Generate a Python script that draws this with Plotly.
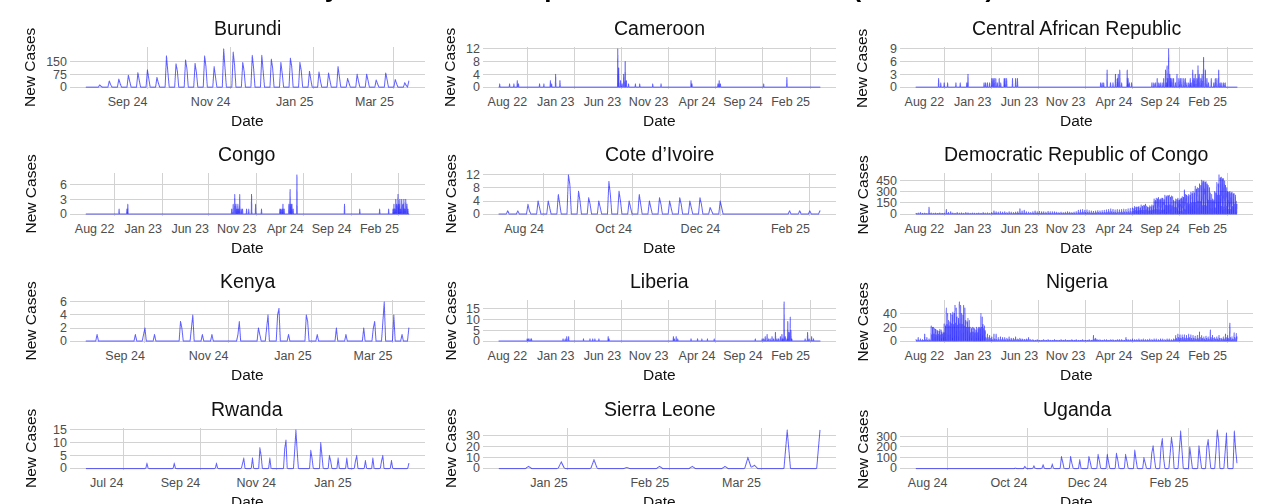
import pandas as pd
import plotly.graph_objects as go

FIG_W, FIG_H = 1270, 504
FONT = "Liberation Sans, Arial, sans-serif"
LINE_COLOR = "rgba(0,0,255,0.62)"
GRID_COLOR = "#d2d2d2"
TICK_COLOR = "#4d4d4d"

main_title = "Daily New Cases of Mpox in African Countries (2022-2025)"
y_title = "New Cases"
x_title = "Date"

countries = ["Burundi", "Cameroon", "Central African Republic",
             "Congo", "Cote d\u2019Ivoire", "Democratic Republic of Congo",
             "Kenya", "Liberia", "Nigeria",
             "Rwanda", "Sierra Leone", "Uganda"]

# ---------------- x tick sets ----------------
long_ticks = ["2022-08-01", "2023-01-01", "2023-06-01", "2023-11-01", "2024-04-01", "2024-09-01", "2025-02-01"]
long_labels = ["Aug 22", "Jan 23", "Jun 23", "Nov 23", "Apr 24", "Sep 24", "Feb 25"]
sepmar_ticks = ["2024-09-01", "2024-11-01", "2025-01-01", "2025-03-01"]
sepmar_labels = ["Sep 24", "Nov 24", "Jan 25", "Mar 25"]
augfeb_ticks = ["2024-08-01", "2024-10-01", "2024-12-01", "2025-02-01"]
augfeb_labels = ["Aug 24", "Oct 24", "Dec 24", "Feb 25"]
juljan_ticks = ["2024-07-01", "2024-09-01", "2024-11-01", "2025-01-01"]
juljan_labels = ["Jul 24", "Sep 24", "Nov 24", "Jan 25"]
janmar_ticks = ["2025-01-01", "2025-02-01", "2025-03-01"]
janmar_labels = ["Jan 25", "Feb 25", "Mar 25"]

# ---------------- data ----------------
long_span = ("2022-05-02", "2025-03-05")

# Burundi: weekly reports (Sunday peak, Monday follow-up)
burundi_span = ("2024-07-18", "2025-03-12")
burundi_sundays = pd.date_range("2024-07-28", periods=33, freq="7D")
burundi_sunday_cases = [13, 36, 47, 70, 85, 102, 57, 184, 137, 160, 140, 184, 121, 226, 207, 146, 188,
                        188, 165, 146, 171, 146, 93, 89, 83, 121, 51, 76, 76, 42, 83, 45, 26]
burundi_monday_cases = [4, 15, 20, 35, 40, 50, 25, 90, 95, 110, 85, 120, 60, 110, 130, 95, 110,
                        95, 110, 80, 120, 95, 45, 40, 40, 60, 25, 35, 40, 20, 45, 20, 10]
burundi_last_date = ["2025-03-12"]
burundi_last_cases = [36]

cameroon_dates = ["2022-05-04", "2022-06-05", "2022-06-19", "2022-06-30", "2022-07-04", "2022-09-10",
                  "2022-09-24", "2022-10-15", "2022-10-19", "2022-11-01", "2022-11-15", "2023-05-21",
                  "2023-05-24", "2023-05-30", "2023-06-04", "2023-06-09", "2023-06-14", "2023-06-18",
                  "2023-06-25", "2023-07-17", "2023-07-31", "2023-09-11", "2023-10-08", "2024-01-13",
                  "2024-01-16", "2024-04-09", "2024-04-13", "2024-04-17", "2024-09-04", "2024-11-18"]
cameroon_cases = [1, 1, 1, 2, 1, 1, 1, 2, 1, 4, 2, 12, 6, 2, 1, 4, 8, 2, 1, 1, 1, 1, 1, 2, 1, 1, 2, 1, 1, 3]

car_dates = ["2022-07-14", "2022-07-21", "2022-08-01", "2022-08-12", "2022-09-08", "2022-09-22",
             "2022-10-13", "2022-10-17", "2022-12-08", "2022-12-13", "2022-12-19", "2022-12-26",
             "2023-01-02", "2023-01-06", "2023-01-10", "2023-01-15", "2023-01-20", "2023-01-26",
             "2023-01-31", "2023-02-11", "2023-02-14", "2023-02-19", "2023-03-10", "2023-03-20",
             "2023-03-26", "2023-12-20", "2023-12-25", "2023-12-30", "2024-01-10", "2024-01-21",
             "2024-01-29", "2024-02-06", "2024-02-12", "2024-02-15", "2024-02-20", "2024-02-26",
             "2024-03-15", "2024-03-18", "2024-03-22", "2024-03-29", "2024-06-03", "2024-06-09",
             "2024-06-14", "2024-06-20", "2024-06-25", "2024-06-30", "2024-07-06", "2024-07-11",
             "2024-07-17", "2024-07-20", "2024-07-22", "2024-07-25", "2024-07-27", "2024-07-31",
             "2024-08-03", "2024-08-07", "2024-08-12", "2024-08-18", "2024-08-23", "2024-08-29",
             "2024-09-03", "2024-09-08", "2024-09-14", "2024-09-19", "2024-09-24", "2024-09-30",
             "2024-10-05", "2024-10-08", "2024-10-13", "2024-10-17", "2024-10-21", "2024-10-26",
             "2024-10-30", "2024-11-03", "2024-11-08", "2024-11-12", "2024-11-17", "2024-11-23",
             "2024-11-28", "2024-12-03", "2024-12-12", "2024-12-20", "2024-12-25", "2024-12-30",
             "2025-01-05", "2025-01-10", "2025-01-15", "2025-01-21", "2025-01-26"]
car_cases = [2, 1, 1, 1, 1, 1, 1, 3, 1, 1, 1, 1,
             2, 2, 2, 2, 1, 2, 1, 2, 2, 2, 2, 2, 2,
             1, 1, 1, 4, 1, 1, 3, 2, 3, 4, 1, 4, 2, 1, 1,
             1, 1, 1, 2, 1, 1, 1, 2, 4, 1, 5, 2, 9, 3, 2,
             2, 2, 1, 3, 2, 2, 2, 2, 2, 1, 1,
             2, 1, 4, 2, 3, 2, 5, 3, 2, 3, 7, 4, 2, 1,
             2, 1, 2, 2, 4, 1, 1, 1, 1]

congo_dates = ["2022-08-16", "2022-09-10", "2022-09-13", "2023-08-13", "2023-08-18", "2023-08-23",
               "2023-08-27", "2023-08-30", "2023-09-02", "2023-09-05", "2023-09-08", "2023-09-13",
               "2023-09-17", "2023-09-30", "2023-10-07", "2023-10-16", "2023-10-29", "2023-11-17",
               "2024-01-15", "2024-01-18", "2024-01-22", "2024-01-25", "2024-01-29", "2024-02-13",
               "2024-02-17", "2024-02-20", "2024-02-23", "2024-02-27", "2024-03-10", "2024-08-10",
               "2024-09-28", "2024-12-01", "2024-12-30", "2025-01-13", "2025-01-16", "2025-01-19",
               "2025-01-22", "2025-01-25", "2025-01-29", "2025-02-01", "2025-02-04", "2025-02-07",
               "2025-02-10", "2025-02-14", "2025-02-17", "2025-02-20", "2025-02-23", "2025-02-27",
               "2025-03-02"]
congo_cases = [1, 1, 2, 1, 2, 4, 2, 1, 2, 1, 4, 1, 1, 1, 1, 4, 2, 1,
               1, 1, 1, 2, 1, 2, 5, 2, 2, 1, 8, 2, 1, 1, 1,
               1, 2, 1, 3, 2, 4, 2, 3, 1, 3, 2, 3, 1, 3, 2, 1]

# Cote d'Ivoire: weekly reports (Sunday peak, Monday follow-up)
civ_span = ("2024-07-01", "2025-02-08")
civ_sundays = pd.date_range("2024-07-07", periods=22, freq="7D")
civ_sunday_cases = [1, 1, 3, 4, 4, 6, 12, 7, 5, 4, 10, 7, 4, 6, 4, 5, 4, 5, 4, 5, 2, 4]
civ_monday_cases = [0, 0, 1, 2, 2, 3, 9, 4, 3, 2, 6, 4, 2, 3, 2, 3, 2, 3, 2, 3, 1, 2]
civ_late_dates = ["2025-01-18", "2025-01-25", "2025-02-01", "2025-02-08"]
civ_late_cases = [1, 1, 1, 1]

# DRC: weekly Monday peak report, mid-week (Wednesday) report, and Friday report (from Apr 2024)
drc_mondays = pd.date_range("2022-05-02", periods=149, freq="7D")
drc_wednesdays = pd.date_range("2022-05-04", periods=149, freq="7D")
drc_fridays = pd.date_range("2024-04-05", periods=49, freq="7D")
drc_monday_cases = [10, 15, 20, 10, 12, 8, 90, 15, 10, 12,
                    8, 15, 10, 12, 60, 20, 30, 15, 10, 20,
                    12, 15, 10, 20, 15, 10, 15, 12, 10, 15,
                    10, 20, 12, 15, 10, 20, 40, 30, 25, 30,
                    25, 30, 20, 30, 25, 20, 25, 30, 70, 40,
                    50, 30, 25, 20, 30, 40, 30, 35, 30, 30,
                    25, 35, 30, 30, 30, 25, 20, 25, 20, 25,
                    30, 25, 20, 25, 30, 50, 55, 60, 50, 55,
                    45, 40, 35, 40, 45, 40, 45, 50, 55, 60,
                    70, 60, 55, 60, 55, 60, 65, 60, 70, 75,
                    80, 100, 95, 100, 120, 115, 130, 90, 110, 120,
                    200, 210, 220, 200, 210, 250, 245, 250, 240, 180,
                    200, 210, 200, 230, 320, 250, 260, 290, 300, 370,
                    350, 400, 450, 440, 430, 380, 280, 200, 300, 420,
                    520, 490, 470, 380, 300, 300, 290, 270, 170]
drc_wednesday_cases = [5, 3, 6, 4, 5, 3, 8, 4, 5, 3,
                       5, 4, 6, 3, 8, 5, 6, 4, 5, 6,
                       4, 5, 3, 6, 5, 4, 5, 3, 6, 4,
                       5, 6, 4, 5, 3, 8, 12, 10, 8, 10,
                       9, 10, 8, 11, 9, 8, 10, 12, 15, 12,
                       14, 10, 9, 8, 10, 12, 11, 10, 12, 10,
                       9, 11, 10, 12, 10, 9, 8, 10, 9, 10,
                       11, 10, 9, 10, 12, 20, 22, 25, 20, 22,
                       18, 16, 15, 18, 20, 18, 20, 22, 25, 28,
                       30, 25, 22, 25, 24, 25, 28, 26, 30, 32,
                       35, 45, 40, 45, 50, 48, 55, 40, 45, 50,
                       55, 60, 55, 50, 55, 115, 110, 120, 110, 85,
                       85, 40, 40, 40, 60, 140, 135, 145, 150, 150,
                       170, 165, 110, 115, 105, 180, 180, 175, 80, 250,
                       250, 100, 95, 100, 60, 60, 100, 130, 130]
drc_friday_cases = [70, 85, 90, 80, 100, 110, 105, 85, 95, 110,
                    180, 200, 190, 210, 190, 230, 240, 220, 230, 170,
                    190, 180, 210, 220, 260, 240, 250, 270, 280, 330,
                    340, 380, 430, 420, 400, 350, 260, 190, 280, 400,
                    480, 470, 440, 350, 290, 280, 270, 250, 160]

kenya_span = ("2024-07-20", "2025-03-13")
kenya_dates = ["2024-07-28", "2024-08-25", "2024-08-31", "2024-09-01", "2024-09-08", "2024-09-27",
               "2024-09-28", "2024-10-05", "2024-10-06", "2024-10-13", "2024-10-20", "2024-11-08",
               "2024-11-09", "2024-11-23", "2024-11-24", "2024-11-29", "2024-11-30", "2024-12-07",
               "2024-12-08", "2024-12-15", "2024-12-28", "2024-12-29", "2025-01-05", "2025-01-19",
               "2025-01-26", "2025-02-08", "2025-02-15", "2025-02-16", "2025-02-22", "2025-02-23",
               "2025-03-02", "2025-03-08", "2025-03-13"]
kenya_cases = [1, 1, 1, 2, 1, 3, 2, 2, 4, 1, 1, 1, 3, 2, 1, 2, 4, 4, 5, 1, 4, 3, 1, 2, 1, 2, 2, 3, 3, 6, 4, 1, 2]

liberia_dates = ["2022-08-01", "2022-08-05", "2022-08-10", "2022-08-15", "2022-11-25", "2022-12-02",
                 "2022-12-07", "2022-12-13", "2023-01-30", "2023-02-20", "2023-03-01", "2023-03-08",
                 "2023-03-21", "2023-04-20", "2023-04-23", "2023-11-17", "2023-11-20", "2023-11-26",
                 "2023-12-01", "2024-01-13", "2024-02-03", "2024-02-17", "2024-03-06", "2024-03-28",
                 "2024-08-08", "2024-08-30", "2024-09-04", "2024-09-09", "2024-09-15", "2024-09-20",
                 "2024-09-25", "2024-10-01", "2024-10-06", "2024-10-12", "2024-10-17", "2024-10-22",
                 "2024-10-28", "2024-11-02", "2024-11-05", "2024-11-09", "2024-11-13", "2024-11-18",
                 "2024-11-21", "2024-11-25", "2024-11-29", "2024-12-01", "2024-12-04", "2025-01-16",
                 "2025-01-24", "2025-01-29", "2025-02-06", "2025-02-12"]
liberia_cases = [1, 1, 1, 1, 1, 1, 2, 2, 1, 1, 1, 1, 1, 2, 1, 2, 1, 2, 1, 1, 1, 1, 1, 1,
                 1, 1, 1, 2, 3, 1, 1, 2, 1, 4, 1, 1, 2, 3, 1, 18, 2, 1, 9, 4, 11, 5, 1,
                 1, 4, 1, 2, 1]

# Nigeria: weekly Monday peak report, mid-week (Wednesday) report, Friday report (2022 wave)
nigeria_mondays = pd.date_range("2022-05-02", periods=149, freq="7D")
nigeria_wednesdays = pd.date_range("2022-05-04", periods=149, freq="7D")
nigeria_fridays = pd.date_range("2022-06-24", periods=25, freq="7D")
nigeria_monday_cases = [2, 5, 3, 2, 10, 5, 3, 22, 20, 17,
                        15, 17, 13, 25, 48, 30, 40, 42, 52, 35,
                        57, 40, 52, 30, 33, 20, 20, 18, 20, 20,
                        40, 24, 15, 10, 8, 6, 10, 10, 5, 6,
                        5, 5, 4, 6, 4, 4, 6, 3, 4, 3,
                        2, 3, 5, 2, 2, 1, 2, 1, 1, 2,
                        1, 2, 1, 1, 2, 1, 1, 2, 1, 2,
                        1, 1, 2, 1, 2, 1, 1, 2, 1, 1,
                        2, 1, 8, 4, 2, 2, 1, 2, 2, 1,
                        2, 2, 1, 2, 2, 2, 1, 5, 2, 2,
                        3, 2, 2, 3, 2, 3, 2, 2, 3, 2,
                        3, 3, 2, 3, 3, 2, 3, 3, 2, 3,
                        8, 10, 9, 9, 9, 8, 10, 9, 8, 7,
                        8, 13, 8, 6, 7, 6, 16, 8, 5, 6,
                        8, 4, 6, 10, 8, 26, 6, 12, 11]
nigeria_wednesday_cases = [1, 1, 1, 1, 2, 1, 1, 9, 10, 9,
                           10, 9, 10, 12, 24, 22, 25, 24, 26, 23,
                           25, 24, 22, 20, 20, 12, 13, 12, 12, 20,
                           20, 18, 5, 5, 4, 2, 3, 2, 2, 2,
                           2, 2, 2, 2, 2, 2, 2, 2, 2, 2,
                           2, 2, 2, 1, 1, 1, 1, 1, 1, 1,
                           1, 1, 1, 1, 1, 1, 1, 1, 1, 1,
                           1, 1, 1, 1, 1, 1, 1, 1, 1, 1,
                           1, 1, 3, 2, 1, 1, 1, 1, 1, 1,
                           1, 1, 1, 1, 1, 1, 1, 2, 1, 1,
                           1, 1, 1, 1, 1, 1, 1, 1, 1, 1,
                           1, 1, 1, 1, 1, 1, 1, 1, 1, 2,
                           4, 5, 4, 5, 4, 4, 5, 4, 4, 3,
                           4, 5, 4, 3, 4, 3, 5, 4, 3, 3,
                           4, 3, 3, 5, 4, 5, 3, 5, 6]
nigeria_friday_cases = [20, 18, 16, 14, 16, 12, 22, 40, 28, 38,
                        40, 48, 33, 52, 38, 48, 28, 30, 18, 19,
                        16, 18, 18, 35, 22]

rwanda_span = ("2024-06-01", "2025-02-16")
rwanda_dates = ["2024-07-20", "2024-08-11", "2024-09-14", "2024-10-05", "2024-10-06", "2024-10-13",
                "2024-10-19", "2024-10-20", "2024-10-27", "2024-11-08", "2024-11-09", "2024-11-16",
                "2024-11-17", "2024-11-18", "2024-11-29", "2024-11-30", "2024-12-07", "2024-12-08",
                "2024-12-14", "2024-12-15", "2024-12-21", "2024-12-28", "2025-01-04", "2025-01-05",
                "2025-01-12", "2025-01-18", "2025-01-25", "2025-01-26", "2025-02-02", "2025-02-16"]
rwanda_cases = [2, 2, 2, 2, 4, 4, 8, 5, 4, 8, 11, 7, 15, 7, 7, 4, 10, 5, 5, 3, 4, 4, 3, 5, 3, 4, 3, 5, 3, 2]

sierra_span = ("2024-12-11", "2025-03-19")
sierra_dates = ["2024-12-20", "2024-12-30", "2025-01-09", "2025-01-19", "2025-01-29", "2025-02-08",
                "2025-02-18", "2025-02-25", "2025-02-26", "2025-02-27", "2025-03-09", "2025-03-19"]
sierra_cases = [2, 6, 8, 1, 2, 2, 2, 10, 1, 3, 35, 35]

uganda_span = ("2024-07-08", "2025-03-10")
uganda_dates = ["2024-09-22", "2024-09-29", "2024-09-30", "2024-10-06", "2024-10-13", "2024-10-20",
                "2024-10-27", "2024-10-28", "2024-11-03", "2024-11-04", "2024-11-10", "2024-11-17",
                "2024-11-18", "2024-11-24", "2024-11-25", "2024-12-01", "2024-12-02", "2024-12-08",
                "2024-12-09", "2024-12-15", "2024-12-16", "2024-12-22", "2024-12-23", "2024-12-29",
                "2024-12-30", "2025-01-04", "2025-01-05", "2025-01-06", "2025-01-11", "2025-01-12",
                "2025-01-13", "2025-01-18", "2025-01-19", "2025-01-20", "2025-01-25", "2025-01-26",
                "2025-01-27", "2025-02-02", "2025-02-03", "2025-02-09", "2025-02-10", "2025-02-15",
                "2025-02-16", "2025-02-17", "2025-02-22", "2025-02-23", "2025-02-24", "2025-03-01",
                "2025-03-02", "2025-03-08", "2025-03-09", "2025-03-10"]
uganda_cases = [5, 20, 5, 25, 35, 40, 110, 60, 110, 50, 80, 110, 60, 130, 70, 130, 60, 140, 80, 130,
                70, 170, 80, 100, 50, 150, 210, 90, 200, 280, 100, 140, 290, 200, 170, 350, 180, 200,
                100, 210, 100, 200, 270, 130, 170, 360, 260, 160, 330, 350, 180, 50]

y_ticks = {
    "Burundi": [0, 75, 150],
    "Cameroon": [0, 4, 8, 12],
    "Central African Republic": [0, 3, 6, 9],
    "Congo": [0, 3, 6],
    "Cote d\u2019Ivoire": [0, 4, 8, 12],
    "Democratic Republic of Congo": [0, 150, 300, 450],
    "Kenya": [0, 2, 4, 6],
    "Liberia": [0, 5, 10, 15],
    "Nigeria": [0, 20, 40],
    "Rwanda": [0, 5, 10, 15],
    "Sierra Leone": [0, 10, 20, 30],
    "Uganda": [0, 100, 200, 300],
}


def daily_series(span, parts):
    """Daily series over span: reported values on listed dates, no report (0) otherwise."""
    idx = pd.date_range(span[0], span[1], freq="D")
    s = pd.Series(0.0, index=idx)
    for dates, values in parts:
        for d, v in zip(pd.to_datetime(list(dates)), values):
            if d in s.index:
                s.loc[d] = v
    return s


one_day = pd.Timedelta(days=1)
series = {
    "Burundi": daily_series(burundi_span, [(burundi_sundays, burundi_sunday_cases),
                                           (burundi_sundays + one_day, burundi_monday_cases),
                                           (burundi_last_date, burundi_last_cases)]),
    "Cameroon": daily_series(long_span, [(cameroon_dates, cameroon_cases)]),
    "Central African Republic": daily_series(long_span, [(car_dates, car_cases)]),
    "Congo": daily_series(long_span, [(congo_dates, congo_cases)]),
    "Cote d\u2019Ivoire": daily_series(civ_span, [(civ_sundays, civ_sunday_cases),
                                                  (civ_sundays + one_day, civ_monday_cases),
                                                  (civ_late_dates, civ_late_cases)]),
    "Democratic Republic of Congo": daily_series(long_span, [(drc_mondays, drc_monday_cases),
                                                             (drc_wednesdays, drc_wednesday_cases),
                                                             (drc_fridays, drc_friday_cases)]),
    "Kenya": daily_series(kenya_span, [(kenya_dates, kenya_cases)]),
    "Liberia": daily_series(long_span, [(liberia_dates, liberia_cases)]),
    "Nigeria": daily_series(long_span, [(nigeria_mondays, nigeria_monday_cases),
                                        (nigeria_wednesdays, nigeria_wednesday_cases),
                                        (nigeria_fridays, nigeria_friday_cases)]),
    "Rwanda": daily_series(rwanda_span, [(rwanda_dates, rwanda_cases)]),
    "Sierra Leone": daily_series(sierra_span, [(sierra_dates, sierra_cases)]),
    "Uganda": daily_series(uganda_span, [(uganda_dates, uganda_cases)]),
}

x_tick_sets = {
    "Burundi": (sepmar_ticks, sepmar_labels),
    "Cameroon": (long_ticks, long_labels),
    "Central African Republic": (long_ticks, long_labels),
    "Congo": (long_ticks, long_labels),
    "Cote d\u2019Ivoire": (augfeb_ticks, augfeb_labels),
    "Democratic Republic of Congo": (long_ticks, long_labels),
    "Kenya": (sepmar_ticks, sepmar_labels),
    "Liberia": (long_ticks, long_labels),
    "Nigeria": (long_ticks, long_labels),
    "Rwanda": (juljan_ticks, juljan_labels),
    "Sierra Leone": (janmar_ticks, janmar_labels),
    "Uganda": (augfeb_ticks, augfeb_labels),
}

# ---------------- layout geometry (pixels) ----------------
col_px = [(70, 425), (483, 836), (900, 1253)]
row_px = [(47, 89), (173, 216), (300, 343), (428, 470)]
ylab_px = [30, 450, 862]

fig = go.Figure()
annotations = []
layout_axes = {}

for i, name in enumerate(countries):
    r, c = divmod(i, 3)
    x0, x1 = col_px[c]
    y0, y1 = row_px[r]
    n = "" if i == 0 else str(i + 1)
    s = series[name]

    fig.add_trace(go.Scattergl(
        x=s.index, y=s.values, mode="lines",
        line=dict(color=LINE_COLOR, width=1),
        xaxis="x" + n, yaxis="y" + n, showlegend=False, hoverinfo="skip",
    ))

    start, end = s.index[0], s.index[-1]
    xpad = (end - start) * 0.05
    ymin, ymax = 0.0, float(s.max())
    ypad = (ymax - ymin) * 0.05
    tv, tt = x_tick_sets[name]

    layout_axes["xaxis" + n] = dict(
        domain=[x0 / FIG_W, x1 / FIG_W], anchor="y" + n, type="date",
        range=[start - xpad, end + xpad], autorange=False,
        tickmode="array", tickvals=tv, ticktext=tt, tickangle=0,
        ticklabelposition="outside left", ticks="", ticklabelstandoff=3,
        tickfont=dict(family=FONT, size=12.5, color=TICK_COLOR),
        showgrid=True, gridcolor=GRID_COLOR, gridwidth=1,
        zeroline=False, showline=False, automargin=False, fixedrange=True,
    )
    layout_axes["yaxis" + n] = dict(
        domain=[1 - y1 / FIG_H, 1 - y0 / FIG_H], anchor="x" + n,
        range=[ymin - ypad, ymax + ypad], autorange=False,
        tickmode="array", tickvals=y_ticks[name],
        ticks="", ticklabelstandoff=2,
        tickfont=dict(family=FONT, size=12.5, color=TICK_COLOR),
        showgrid=True, gridcolor=GRID_COLOR, gridwidth=1,
        zeroline=False, showline=False, automargin=False, fixedrange=True,
    )

    xc = (x0 + x1) / 2 / FIG_W
    annotations.append(dict(text=name, x=xc, y=1 - (y0 - 19) / FIG_H, xref="paper", yref="paper",
                            showarrow=False, xanchor="center", yanchor="middle",
                            font=dict(family=FONT, size=19.5, color="#111111")))
    annotations.append(dict(text=y_title, x=ylab_px[c] / FIG_W, y=1 - ((y0 + y1) / 2) / FIG_H,
                            xref="paper", yref="paper", showarrow=False, textangle=-90,
                            xanchor="center", yanchor="middle",
                            font=dict(family=FONT, size=15.5, color="#111111")))
    annotations.append(dict(text=x_title, x=xc, y=1 - (y1 + 31) / FIG_H, xref="paper", yref="paper",
                            showarrow=False, xanchor="center", yanchor="middle",
                            font=dict(family=FONT, size=15.5, color="#111111")))

annotations.append(dict(text="<b>" + main_title + "</b>", x=0.5, y=1 + 12 / FIG_H,
                        xref="paper", yref="paper", showarrow=False,
                        xanchor="center", yanchor="middle",
                        font=dict(family=FONT, size=26, color="#000000")))

fig.update_layout(
    width=FIG_W, height=FIG_H,
    margin=dict(l=0, r=0, t=0, b=0),
    paper_bgcolor="white", plot_bgcolor="white",
    font=dict(family=FONT, color=TICK_COLOR),
    showlegend=False,
    annotations=annotations,
    **layout_axes,
)

fig.write_html("out.html", config={"displayModeBar": False, "staticPlot": True},
               post_script="document.body.style.margin='0';document.body.style.overflow='hidden';")
